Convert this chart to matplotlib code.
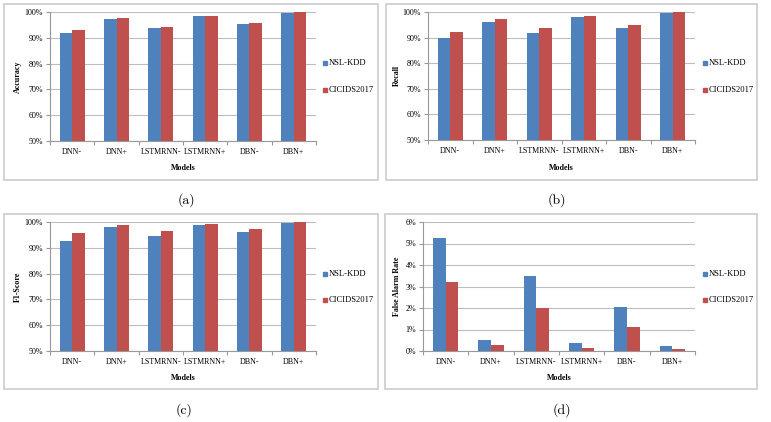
import numpy as np
import matplotlib
matplotlib.use("Agg")
import matplotlib.pyplot as plt
from matplotlib.patches import Rectangle
from matplotlib.ticker import FuncFormatter, MultipleLocator

models = ["DNN-", "DNN+", "LSTMRNN-", "LSTMRNN+", "DBN-", "DBN+"]
series_names = ["NSL-KDD", "CICIDS2017"]

accuracy_nsl = [92.0, 97.4, 93.9, 98.6, 95.4, 99.6]
accuracy_cic = [92.9, 97.7, 94.2, 98.6, 95.7, 99.9]
recall_nsl = [89.9, 96.1, 91.9, 98.1, 93.8, 99.6]
recall_cic = [92.3, 97.4, 93.8, 98.5, 95.1, 100.0]
f1_nsl = [92.8, 97.9, 94.6, 99.0, 96.0, 99.7]
f1_cic = [95.7, 98.7, 96.5, 99.2, 97.4, 100.0]
far_nsl = [5.24, 0.51, 3.47, 0.39, 2.05, 0.23]
far_cic = [3.22, 0.28, 2.02, 0.16, 1.12, 0.09]

BLUE = "#4F81BD"
RED = "#C0504D"
SERIF = ["Liberation Serif", "DejaVu Serif"]

W, H = 771, 422
fig = plt.figure(figsize=(W / 100, H / 100), dpi=100)
fig.patch.set_facecolor("white")


def fx(px):
    return px / W


def fy(py):
    return 1 - py / H


panels = [
    dict(box=(4, 4, 378, 180), ax=(50, 12, 316, 141), nsl=accuracy_nsl, cic=accuracy_cic,
         ylabel="Accuracy", ylim=(50, 100), step=10, ylx=18, lgx=325, lgy=(63, 90),
         xl_y=168, cap="(a)", capxy=(186, 200)),
    dict(box=(386, 4, 757, 180), ax=(428, 12, 695, 140), nsl=recall_nsl, cic=recall_cic,
         ylabel="Recall", ylim=(50, 100), step=10, ylx=397, lgx=705, lgy=(63, 90),
         xl_y=168, cap="(b)", capxy=(557, 200)),
    dict(box=(4, 214, 378, 389), ax=(50, 222, 316, 351), nsl=f1_nsl, cic=f1_cic,
         ylabel="F1-Score", ylim=(50, 100), step=10, ylx=18, lgx=325, lgy=(274, 300),
         xl_y=378, cap="(c)", capxy=(184, 410)),
    dict(box=(385, 214, 757, 389), ax=(423, 222, 695, 351), nsl=far_nsl, cic=far_cic,
         ylabel="False Alarm Rate", ylim=(0, 6), step=1, ylx=397, lgx=705, lgy=(274, 300),
         xl_y=378, cap="(d)", capxy=(562, 410)),
]

x = np.arange(len(models))
w = 0.28
fs = 5.8

for p in panels:
    bl, bt, br, bb = p["box"]
    fig.patches.append(Rectangle((fx(bl), fy(bb)), fx(br - bl), (bb - bt) / H,
                                 transform=fig.transFigure, fill=False,
                                 edgecolor="#c8c8c8", linewidth=1.1, zorder=0))
    al, at, ar, ab = p["ax"]
    ax = fig.add_axes([fx(al), fy(ab), fx(ar - al), (ab - at) / H])
    ax.bar(x - w / 2, p["nsl"], width=w, color=BLUE, zorder=3, label=series_names[0])
    ax.bar(x + w / 2, p["cic"], width=w, color=RED, zorder=3, label=series_names[1])
    ax.set_xlim(-0.5, len(models) - 0.5)
    ax.set_ylim(*p["ylim"])
    ax.yaxis.set_major_locator(MultipleLocator(p["step"]))
    ax.yaxis.set_major_formatter(FuncFormatter(lambda v, _: f"{v:.0f}%"))
    ax.yaxis.grid(True, color="#bdbdbd", linewidth=0.8, zorder=0)
    ax.set_axisbelow(True)
    for s in ["top", "right"]:
        ax.spines[s].set_visible(False)
    for s in ["left", "bottom"]:
        ax.spines[s].set_color("#999999")
        ax.spines[s].set_linewidth(0.8)
    ax.set_xticks(x)
    ax.set_xticklabels(models, fontsize=fs, family=SERIF)
    ax.tick_params(axis="x", which="major", length=0, pad=5)
    ax.set_xticks(np.arange(-0.5, len(models)), minor=True)
    ax.tick_params(axis="x", which="minor", length=3, color="#999999", width=0.8)
    ax.tick_params(axis="y", length=3, color="#999999", width=0.8, pad=2)
    for lab in ax.get_yticklabels():
        lab.set_fontsize(fs)
        lab.set_family(SERIF)
    fig.text(fx(p["ylx"]), fy((at + ab) / 2), p["ylabel"], rotation=90, ha="center",
             va="center", fontsize=fs, fontweight="bold", family=SERIF)
    fig.text(fx((al + ar) / 2), fy(p["xl_y"]), "Models", ha="center", va="center",
             fontsize=fs, fontweight="bold", family=SERIF)
    for name, col, ly in zip(series_names, [BLUE, RED], p["lgy"]):
        fig.patches.append(Rectangle((fx(p["lgx"] - 2), fy(ly + 2)), fx(4), 4 / H,
                                     transform=fig.transFigure, color=col))
        fig.text(fx(p["lgx"] + 4), fy(ly), name, ha="left", va="center",
                 fontsize=fs + 0.3, family=SERIF)
    fig.text(fx(p["capxy"][0]), fy(p["capxy"][1]), p["cap"], ha="center", va="center",
             fontsize=10, family=["cmr10", "DejaVu Serif"])

fig.savefig("out.png", dpi=100, facecolor="white")
